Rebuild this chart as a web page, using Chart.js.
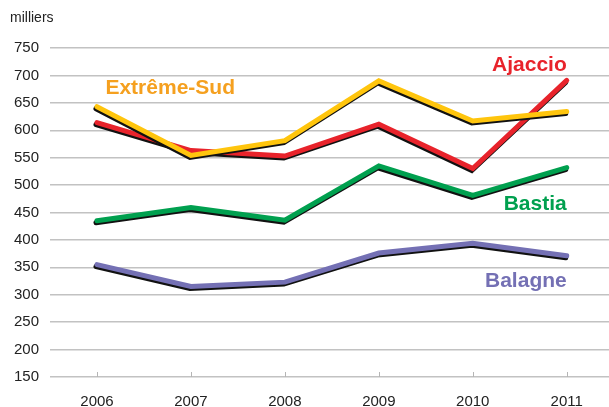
<!DOCTYPE html>
<html>
<head>
<meta charset="utf-8">
<script src="https://cdn.jsdelivr.net/npm/chart.js@4.4.0/dist/chart.umd.min.js"></script>
<style>
  html, body { margin: 0; padding: 0; background: #fff; }
  #wrap { position: relative; width: 609px; height: 407px; }
</style>
</head>
<body>
<div id="wrap"><canvas id="graphe"></canvas></div>
<script>
// Données (milliers)
const annees = [2006, 2007, 2008, 2009, 2010, 2011];
const extremeSud = [643, 554, 581, 690, 617, 634];
const ajaccio = [614, 563, 553, 611, 530, 691];
const bastia = [435, 459, 436, 535, 481, 532];
const balagne = [355, 315, 323, 376, 394, 371];
const ticksY = [150, 200, 250, 300, 350, 400, 450, 500, 550, 600, 650, 700, 750];

const police = "'Liberation Sans', Arial, Helvetica, sans-serif";

function serie(valeurs) {
  return annees.map((a, i) => ({ x: a, y: valeurs[i] }));
}

// ombre noire sous chaque courbe
const ombre = {
  id: "ombre",
  beforeDatasetDraw(chart) {
    const ctx = chart.ctx;
    ctx.save();
    ctx.shadowColor = "#111";
    ctx.shadowOffsetX = -1;
    ctx.shadowOffsetY = 2;
    ctx.shadowBlur = 0;
  },
  afterDatasetDraw(chart) {
    chart.ctx.restore();
  }
};

// noms des séries, petits traits de l'axe, unité
const textes = {
  id: "textes",
  afterDraw(chart) {
    const ctx = chart.ctx;
    const x = chart.scales.x, y = chart.scales.y;
    ctx.save();
    // traits
    ctx.strokeStyle = "#b5b5b5";
    ctx.lineWidth = 1;
    annees.forEach(a => {
      const px = Math.round(x.getPixelForValue(a)) + 0.5;
      ctx.beginPath();
      ctx.moveTo(px, y.bottom - 5);
      ctx.lineTo(px, y.bottom);
      ctx.stroke();
    });
    ctx.font = "14px " + police;
    ctx.fillStyle = "#222";
    ctx.textBaseline = "middle";
    ctx.textAlign = "left";
    ctx.fillText("milliers", 10, 18);

    ctx.font = "bold 21px " + police;
    ctx.fillStyle = "#F5A01F";
    ctx.fillText("Extrême-Sud", x.getPixelForValue(2006.09), y.getPixelForValue(676));
    ctx.textAlign = "right";
    ctx.fillStyle = "#E8232B";
    ctx.fillText("Ajaccio", x.getPixelForValue(2011), y.getPixelForValue(719));
    ctx.fillStyle = "#00A04F";
    ctx.fillText("Bastia", x.getPixelForValue(2011), y.getPixelForValue(466));
    ctx.fillStyle = "#7470B4";
    ctx.fillText("Balagne", x.getPixelForValue(2011), y.getPixelForValue(324));
    ctx.restore();
  }
};

const ctx = document.getElementById("graphe");
new Chart(ctx, {
  type: "line",
  data: {
    datasets: [
      { label: "Extrême-Sud", data: serie(extremeSud), borderColor: "#FFC50D" },
      { label: "Ajaccio", data: serie(ajaccio), borderColor: "#E8232B" },
      { label: "Bastia", data: serie(bastia), borderColor: "#00A04F" },
      { label: "Balagne", data: serie(balagne), borderColor: "#7470B4" }
    ]
  },
  options: {
    responsive: true,
    maintainAspectRatio: false,
    animation: false,
    layout: { padding: { top: 48, left: 0, right: 0, bottom: 0 } },
    elements: {
      line: { borderWidth: 5, tension: 0, borderCapStyle: "round", borderJoinStyle: "miter" },
      point: { radius: 0 }
    },
    plugins: {
      legend: { display: false },
      tooltip: { enabled: false }
    },
    scales: {
      x: {
        type: "linear",
        min: 2005.5,
        max: 2011.45,
        afterBuildTicks: s => { s.ticks = annees.map(v => ({ value: v })); },
        afterFit: s => { s.height = 30; },
        grid: { display: false },
        border: { display: false },
        ticks: {
          callback: v => String(v),
          color: "#222",
          font: { family: police, size: 15 },
          padding: 8,
          maxRotation: 0
        }
      },
      y: {
        min: 150,
        max: 750,
        afterBuildTicks: s => { s.ticks = ticksY.map(v => ({ value: v })); },
        afterFit: s => { s.width = 50; },
        grid: { color: "#c2c2c2", lineWidth: 1.5, drawTicks: false },
        border: { display: false },
        ticks: {
          color: "#222",
          font: { family: police, size: 15 },
          padding: 11
        }
      }
    }
  },
  plugins: [ombre, textes]
});
</script>
</body>
</html>
